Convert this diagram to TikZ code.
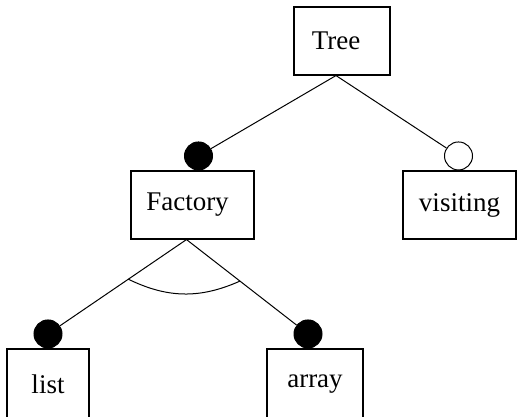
\documentclass[tikz,border=0pt]{standalone}
\usepackage{fontspec}
\setmainfont{Liberation Serif}
\usetikzlibrary{calc}
\tikzset{feature/.style={draw, line width=1.1pt, minimum height=68pt, inner sep=0pt,
    font=\fontsize{27}{30}\selectfont},
  mandatory/.style={circle, fill=black, draw, line width=1pt, minimum size=28pt,
    inner sep=0pt, anchor=south},
  optional/.style={mandatory, fill=white},
  edge/.style={line width=1pt}}

\begin{document}
\begin{tikzpicture}[x=1pt, y=-1pt]
  \useasboundingbox (0,0) rectangle (517,416);
  \clip (0,0) rectangle (517,416);
  % features
  \node[feature, minimum width=96pt] (tree) at (342,41) {\hspace*{-12pt}Tree};
  \node[feature, minimum width=123pt] (factory) at (192.5,205) {\hspace*{-10pt}Factory};
  \node[feature, minimum width=113pt] (visiting) at (459.5,205) {visiting};
  \node[feature, minimum width=82pt, minimum height=70pt] (list) at (48,384) {list};
  \node[feature, minimum width=96pt, minimum height=70pt] (array) at (315,384) {array};
  % mandatory / optional markers
  \node[mandatory] (factorydot) at ([xshift=6pt]factory.north) {};
  \node[optional] (visitingdot) at ([xshift=-1pt]visiting.north) {};
  \node[mandatory] (listdot) at (list.north) {};
  \node[mandatory] (arraydot) at ([xshift=-7pt]array.north) {};
  \coordinate (treefoot) at ([xshift=-6pt]tree.south);
  \coordinate (factoryfoot) at ([xshift=-6pt]factory.south);
  \draw[edge] (treefoot) -- (factorydot);
  \draw[edge] (treefoot) -- (visitingdot);
  \draw[edge] (factoryfoot) -- (listdot);
  \draw[edge] (factoryfoot) -- (arraydot);
  % alternative group
  \draw[edge] ($(factoryfoot)!.42!(listdot.center)$)
    to[bend right=25] ($(factoryfoot)!.44!(arraydot.center)$);
\end{tikzpicture}
\end{document}
